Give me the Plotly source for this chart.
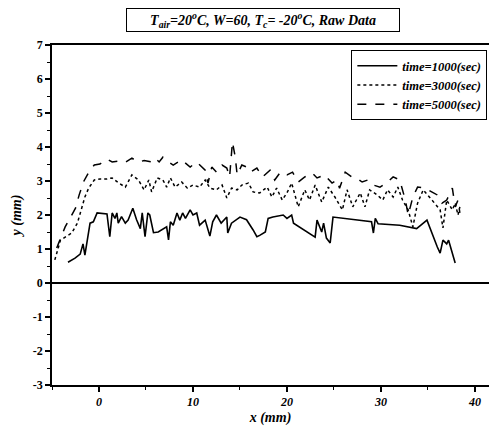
import plotly.graph_objects as go

# time = 1000 sec (solid)
x_1000 = [-3.3, -2.55, -2.0, -1.7, -1.5, -0.95, -0.6, -0.2, 0.85, 1.15, 1.4, 1.7, 1.9, 2.05, 2.4, 2.8,
          3.1, 3.6, 4.0, 4.4, 4.6, 4.75, 4.9, 5.2, 5.4, 5.8, 6.3, 7.2, 7.4, 7.6, 7.9, 8.3, 8.6, 8.9,
          9.2, 9.7, 10.0, 10.4, 10.7, 11.3, 11.8, 12.1, 12.5, 13.0, 13.6, 13.7, 14.1, 15.0, 15.7,
          16.4, 16.8, 17.1, 17.7, 18.0, 18.5, 19.6, 20.0, 20.5, 20.7, 23.0, 23.2, 23.7, 23.9, 24.2,
          24.6, 24.9, 29.0, 29.2, 29.4, 29.7, 32.0, 33.8, 34.9, 36.0, 36.3, 36.6, 37.0, 37.2, 37.9]
y_1000 = [0.61, 0.73, 0.85, 1.15, 0.82, 1.76, 1.8, 2.06, 2.03, 1.36, 2.06, 1.9, 2.06, 1.76, 1.95, 1.76,
          1.85, 2.2, 1.86, 1.6, 2.06, 1.76, 1.36, 2.06, 2.0, 1.48, 1.5, 1.65, 1.27, 1.8, 1.7, 2.06, 1.85, 2.06,
          1.9, 2.15, 2.0, 2.06, 1.7, 1.85, 1.38, 1.8, 2.0, 1.76, 1.94, 1.47, 1.76, 1.94, 1.86,
          1.56, 1.36, 1.4, 1.5, 1.9, 1.94, 2.0, 1.9, 2.0, 1.76, 1.35, 1.85, 1.5, 1.76, 1.32,
          1.18, 1.94, 1.8, 1.47, 1.9, 1.74, 1.7, 1.6, 1.85, 1.06, 0.88, 1.26, 1.15, 1.26, 0.59]

# time = 3000 sec (dotted)
x_3000 = [-4.7, -4.1, -3.6, -2.9, -2.3, -1.8, -1.5, -1.1, -0.5, 0.1, 0.85, 1.4, 2.1, 2.8, 3.5, 4.2,
          4.8, 5.3, 5.6, 6.2, 6.8, 7.2, 7.6, 8.1, 8.8, 9.4, 10.0, 10.7, 11.3, 11.8, 12.5, 13.1, 13.6,
          14.1, 14.7, 15.2, 15.9, 16.4, 17.1, 17.9, 18.4, 18.9, 19.5, 20.0, 20.5, 21.2, 21.9, 22.4,
          23.0, 23.7, 24.4, 25.1, 25.9, 26.4, 27.0, 27.8, 28.3, 28.8, 29.6, 30.2, 30.7, 31.3, 31.8,
          32.3, 32.9, 33.4, 33.9, 34.5, 35.2, 35.7, 36.3, 36.6, 37.0, 37.6, 37.9, 38.2, 38.4]
y_3000 = [0.68, 1.26, 1.35, 1.47, 1.76, 2.24, 2.53, 2.79, 3.03, 3.06, 3.06, 3.09, 2.94, 2.82, 3.18, 3.03,
          2.74, 3.03, 2.68, 3.09, 3.03, 2.82, 3.09, 2.82, 2.97, 2.79, 2.88, 2.82, 3.03, 2.79, 2.74, 2.88, 2.5,
          2.79, 2.74, 2.88, 2.94, 2.68, 2.65, 2.82, 2.53, 2.79, 2.44, 2.65, 2.94, 2.24, 2.74, 2.44,
          2.88, 2.38, 2.82, 2.53, 2.15, 2.74, 2.24, 2.65, 2.24, 2.74, 2.59, 2.44, 2.74, 2.53, 2.82,
          2.44, 2.15, 1.65, 2.35, 2.74, 2.53, 2.35, 2.15, 1.62, 2.44, 2.15, 2.35, 2.0, 2.24]

# time = 5000 sec (dashed)
x_5000 = [-4.5, -3.6, -3.1, -2.5, -2.1, -1.6, -1.0, -0.5, 0.1, 0.85, 1.4, 2.1, 2.8, 3.5, 4.2, 4.8,
          5.6, 6.0, 6.4, 6.8, 7.2, 7.9, 8.8, 9.7, 10.4, 11.3, 11.6, 12.0, 12.5, 13.1, 13.6, 13.9,
          14.2, 14.5, 14.7, 15.2, 15.7, 16.1, 16.8, 17.4, 18.2, 18.7, 19.3, 20.0, 20.6, 21.2, 21.9,
          22.7, 23.2, 24.0, 24.8, 25.3, 25.6, 26.2, 26.9, 27.4, 28.0, 28.6, 29.2, 29.9, 30.6, 31.3,
          32.0, 32.6, 32.9, 33.4, 33.9, 34.7, 35.4, 36.0, 36.5, 37.0, 37.6, 37.9, 38.2, 38.4]
y_5000 = [1.03, 1.65, 1.9, 2.2, 2.6, 3.0, 3.3, 3.47, 3.5, 3.64, 3.56, 3.59, 3.55, 3.67, 3.56, 3.6,
          3.56, 3.67, 3.56, 3.7, 3.6, 3.47, 3.62, 3.41, 3.56, 3.32, 2.94, 3.41, 3.26, 3.47, 3.38, 3.12,
          4.15, 3.7, 3.18, 3.47, 3.41, 3.26, 3.38, 3.12, 3.32, 3.03, 3.26, 3.18, 3.26, 2.97, 3.12,
          3.23, 3.09, 3.18, 2.94, 3.03, 2.79, 3.26, 3.12, 3.09, 2.97, 3.03, 2.88, 2.82, 2.94, 3.12,
          3.03, 2.44, 2.0, 2.53, 2.82, 2.79, 2.68, 2.59, 2.35, 2.44, 2.79, 2.24, 2.44, 2.06]

x_ticks = [0, 10, 20, 30, 40]
y_ticks = [-3, -2, -1, 0, 1, 2, 3, 4, 5, 6, 7]

FONT = "Liberation Serif"

fig = go.Figure()
fig.add_trace(go.Scatter(x=x_1000, y=y_1000, mode="lines", name="<b><i>time=1000(sec)</i></b>",
                         line=dict(color="black", width=1.6, dash="solid")))
fig.add_trace(go.Scatter(x=x_3000, y=y_3000, mode="lines", name="<b><i>time=3000(sec)</i></b>",
                         line=dict(color="black", width=1.5, dash="dot")))
fig.add_trace(go.Scatter(x=x_5000, y=y_5000, mode="lines", name="<b><i>time=5000(sec)</i></b>",
                         line=dict(color="black", width=1.5, dash="dash")))

fig.update_layout(
    width=489, height=426,
    margin=dict(l=52, r=0, t=45, b=41, autoexpand=False),
    paper_bgcolor="white", plot_bgcolor="white",
    font=dict(family=FONT, color="black", size=12),
    showlegend=True,
    legend=dict(x=0.685, y=0.985, xanchor="left", yanchor="top",
                bordercolor="black", borderwidth=1, bgcolor="white",
                font=dict(family=FONT, size=12.5, color="black"),
                tracegroupgap=0, itemwidth=40),
    annotations=[dict(
        text="<b><i>T<sub>air</sub>=20<sup>o</sup>C, W=60, T<sub>c</sub>= -20<sup>o</sup>C, Raw Data</i></b>",
        xref="paper", yref="paper", x=0.483, y=1.0735, xanchor="center", yanchor="middle",
        showarrow=False, font=dict(family=FONT, size=14, color="black"),
        bordercolor="black", borderwidth=1, width=270, height=20, bgcolor="white")],
)

fig.update_xaxes(
    range=[-5, 41.5], tickvals=x_ticks, ticktext=[f"<b><i>{v}</i></b>" for v in x_ticks],
    showline=True, linecolor="black", linewidth=1.5, mirror=True,
    ticks="outside", ticklen=5, tickwidth=1.5, tickcolor="black",
    minor=dict(dtick=5, tick0=0, ticks="outside", ticklen=3, tickcolor="black", tickwidth=1),
    showgrid=False, zeroline=False, automargin=False,
    title=dict(text="<b><i>x (mm)</i></b>", font=dict(family=FONT, size=14), standoff=4),
)
fig.update_yaxes(
    range=[-3, 7], tickvals=y_ticks, ticktext=[f"<b>{v}</b>" for v in y_ticks],
    showline=True, linecolor="black", linewidth=1.5, mirror=False,
    ticks="outside", ticklen=5, tickwidth=1.5, tickcolor="black",
    minor=dict(dtick=0.5, tick0=0, ticks="outside", ticklen=3, tickcolor="black", tickwidth=1),
    showgrid=False, zeroline=True, zerolinecolor="black", zerolinewidth=1.5, automargin=False,
    title=dict(text="<b><i>y (mm)</i></b>", font=dict(family=FONT, size=14), standoff=8),
)

fig.write_html("out.html", config={"displayModeBar": False},
               post_script="document.body.style.margin='0';document.body.style.overflow='hidden';")
